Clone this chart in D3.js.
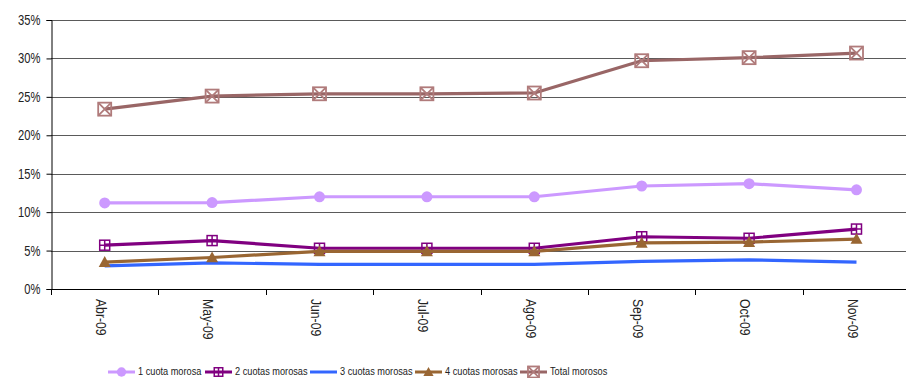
<!DOCTYPE html>
<html><head><meta charset="utf-8">
<script src="https://cdn.jsdelivr.net/npm/d3@7"></script>
<style>
html,body{margin:0;padding:0;background:#fff;overflow:hidden}
text{font-family:"Liberation Sans Narrow","Arial Narrow","Liberation Sans",Arial,sans-serif;fill:#222}
</style></head>
<body>
<svg id="c" width="906" height="378"></svg>
<script>
const categories = ["Abr-09","May-09","Jun-09","Jul-09","Ago-09","Sep-09","Oct-09","Nov-09"];
const cuota1 = [11.2, 11.25, 12.0, 12.0, 12.0, 13.4, 13.7, 12.9];
const cuota2 = [5.7, 6.3, 5.3, 5.3, 5.3, 6.8, 6.6, 7.8];
const cuota3 = [3.0, 3.4, 3.2, 3.2, 3.2, 3.6, 3.8, 3.5];
const cuota4 = [3.5, 4.1, 4.9, 4.9, 4.9, 6.0, 6.1, 6.5];
const total = [23.4, 25.1, 25.4, 25.4, 25.5, 29.7, 30.1, 30.7];
const seriesNames = ["1 cuota morosa","2 cuotas morosas","3 cuotas morosas","4 cuotas morosas","Total morosos"];
const yTicks = [0,5,10,15,20,25,30,35];

const series = [
  {name:seriesNames[0], values:cuota1, color:"#CC99FF", marker:"circle"},
  {name:seriesNames[1], values:cuota2, color:"#800080", marker:"plus"},
  {name:seriesNames[2], values:cuota3, color:"#3366FF", marker:"none"},
  {name:seriesNames[3], values:cuota4, color:"#996633", marker:"triangle"},
  {name:seriesNames[4], values:total, color:"#996666", marker:"xsq", mcolor:"#B07B7B"}
];

const NARROW = 0.8;
const svg = d3.select("#c");
const m = {left:51, top:20, bottom:289};
const plotW = 8*107.4;
const x = d3.scaleBand().domain(categories).range([m.left, m.left+plotW]);
const y = d3.scaleLinear().domain([0,35]).range([m.bottom, m.top]);

// gridlines
svg.append("g").selectAll("line").data(yTicks.filter(d=>d>0)).join("line")
  .attr("x1", m.left).attr("x2", 906)
  .attr("y1", d=>Math.round(y(d))+0.5).attr("y2", d=>Math.round(y(d))+0.5)
  .attr("stroke", "#5a5a5a").attr("stroke-width", 1.2);

// y axis
const ya = svg.append("g").attr("transform", `translate(${m.left+0.5},0)`)
  .call(d3.axisLeft(y).tickValues(yTicks).tickFormat(d=>d+"%").tickSize(5).tickPadding(0));
ya.select(".domain").attr("stroke","#000");
ya.selectAll(".tick line").attr("stroke","#000");
ya.selectAll(".tick text").style("font-size","14px").attr("fill","#333")
  .attr("x", null).attr("transform", `translate(-11,0) scale(${NARROW},1)`);

// x axis
const xa = svg.append("g").attr("transform", `translate(0,${Math.round(m.bottom)+0.5})`)
  .call(d3.axisBottom(x).tickSize(0).tickFormat(""));
xa.select(".domain").attr("stroke","#000").attr("d", `M${m.left},0H906`);
xa.selectAll(".tick").remove();
const bounds = d3.range(categories.length+1).map(i=>m.left + i*x.step());
svg.append("g").selectAll("line").data(bounds).join("line")
  .attr("x1", d=>Math.round(d)+0.5).attr("x2", d=>Math.round(d)+0.5)
  .attr("y1", m.bottom).attr("y2", m.bottom+6).attr("stroke","#000");
svg.append("g").selectAll("text").data(categories).join("text")
  .attr("transform", d=>`translate(${x(d)+x.bandwidth()/2-5},${m.bottom+10}) rotate(90) scale(${NARROW+0.07},1)`)
  .attr("text-anchor","start").attr("dominant-baseline","middle")
  .style("font-size","14px").attr("fill","#333").text(d=>d);

const cx = (d,i)=>x(categories[i])+x.bandwidth()/2;
const line = d3.line().x((d,i)=>cx(d,i)).y(d=>y(d));

function drawMarker(g, type, color, mcolor, px, py, scale) {
  const s = scale||1;
  if (type==="circle") {
    g.append("circle").attr("cx",px).attr("cy",py).attr("r",5.5*s).attr("fill",color);
  } else if (type==="plus") {
    const h=5*s;
    g.append("rect").attr("x",px-h).attr("y",py-h).attr("width",2*h).attr("height",2*h)
      .attr("fill","none").attr("stroke",color).attr("stroke-width",1.5);
    g.append("path").attr("d",`M${px-h},${py}H${px+h}M${px},${py-h}V${py+h}`)
      .attr("stroke",color).attr("stroke-width",1.5);
  } else if (type==="triangle") {
    const h=6*s;
    g.append("path").attr("d",`M${px},${py-h}L${px+h},${py+h*0.8}L${px-h},${py+h*0.8}Z`).attr("fill",color);
  } else if (type==="xsq") {
    const h=6.5*s;
    g.append("rect").attr("x",px-h).attr("y",py-h).attr("width",2*h).attr("height",2*h)
      .attr("fill","none").attr("stroke",mcolor).attr("stroke-width",1.8);
    g.append("path").attr("d",`M${px-h},${py-h}L${px+h},${py+h}M${px+h},${py-h}L${px-h},${py+h}`)
      .attr("stroke",mcolor).attr("stroke-width",1.8);
  }
}

series.forEach(s=>{
  const g = svg.append("g");
  g.append("path").datum(s.values).attr("d", line).attr("fill","none")
    .attr("stroke", s.color).attr("stroke-width", 3.2).attr("stroke-linejoin","round");
  s.values.forEach((v,i)=>drawMarker(g, s.marker, s.color, s.mcolor||s.color, cx(v,i), y(v)));
});

// legend
const legendX = [108, 205, 310, 415, 520];
const ly = 372;
const lg = svg.append("g");
series.forEach((s,i)=>{
  const x0 = legendX[i];
  lg.append("line").attr("x1",x0).attr("x2",x0+27).attr("y1",ly).attr("y2",ly)
    .attr("stroke",s.color).attr("stroke-width",3);
  drawMarker(lg, s.marker, s.color, s.mcolor||s.color, x0+13.5, ly, 0.85);
  lg.append("text").attr("transform",`translate(${x0+30},${ly}) scale(${NARROW},1)`)
    .attr("dominant-baseline","middle")
    .style("font-size","11.5px").attr("fill","#333").text(s.name);
});
</script>
</body></html>
